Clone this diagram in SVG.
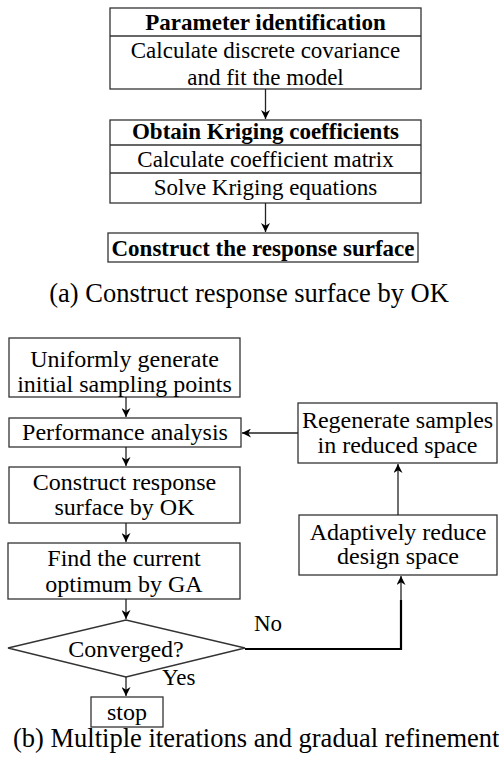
<svg xmlns="http://www.w3.org/2000/svg" width="499" height="762" viewBox="0 0 499 762">
<style>
text{font-family:'Liberation Serif','Times New Roman',serif;fill:#000;text-anchor:middle}
.t{font-size:23px}
.u{font-size:24px}
.b{font-weight:bold}
.cap{font-size:26.5px}
.l{text-anchor:start}
.box{fill:#fff;stroke:#333;stroke-width:1.3}
.c{fill:none;stroke:#222;stroke-width:1.3}
.c2{fill:none;stroke:#000;stroke-width:2.2}
</style>
<defs>
<marker id="ah" viewBox="0 0 10 10" refX="10" refY="5" markerWidth="9" markerHeight="9" markerUnits="userSpaceOnUse" orient="auto">
<path d="M0,0 L10,5 L0,10 L3,5 z" fill="#000"/>
</marker>
</defs>
<g id="param">
<rect class="box" x="110" y="8" width="311" height="81"/>
<line class="box" x1="110" y1="36" x2="421" y2="36"/>
<text class="t b" x="265.5" y="30">Parameter identification</text>
<text class="t" x="265.5" y="58">Calculate discrete covariance</text>
<text class="t" x="265.5" y="85">and fit the model</text>
</g>
<g id="kriging">
<rect class="box" x="110" y="120" width="311" height="83"/>
<line class="box" x1="110" y1="145" x2="421" y2="145"/>
<line class="box" x1="110" y1="173" x2="421" y2="173"/>
<text class="t b" x="265.5" y="139">Obtain Kriging coefficients</text>
<text class="t" x="265.5" y="167">Calculate coefficient matrix</text>
<text class="t" x="265.5" y="195">Solve Kriging equations</text>
</g>
<g id="surface">
<rect class="box" x="108" y="233" width="310" height="29"/>
<text class="t b" x="263" y="256">Construct the response surface</text>
</g>
<text class="cap" x="249" y="302">(a) Construct response surface by OK</text>
<g id="uniform">
<rect class="box" x="9" y="338" width="231" height="59"/>
<text class="u" x="124.5" y="367">Uniformly generate</text>
<text class="u" x="124.5" y="392">initial sampling points</text>
</g>
<g id="perf">
<rect class="box" x="9" y="418" width="232" height="29"/>
<text class="u" x="125" y="440">Performance analysis</text>
</g>
<g id="construct">
<rect class="box" x="9" y="467" width="231" height="56"/>
<text class="u" x="124.5" y="490">Construct response</text>
<text class="u" x="124.5" y="515">surface by OK</text>
</g>
<g id="find">
<rect class="box" x="8" y="543" width="232" height="56"/>
<text class="u" x="124" y="566">Find the current</text>
<text class="u" x="124" y="592">optimum by GA</text>
</g>
<g id="converged">
<polygon class="box" points="8,648 126,620 245,648 126,677"/>
<text class="u" x="126" y="657">Converged?</text>
</g>
<g id="stop">
<rect class="box" x="91" y="697" width="72" height="30"/>
<text class="u" x="127" y="720">stop</text>
</g>
<g id="regen">
<rect class="box" x="298" y="403" width="199" height="60"/>
<text class="u" x="397.5" y="428">Regenerate samples</text>
<text class="u" x="397.5" y="453">in reduced space</text>
</g>
<g id="adapt">
<rect class="box" x="299" y="515" width="198" height="60"/>
<text class="u" x="398" y="540">Adaptively reduce</text>
<text class="u" x="398" y="564">design space</text>
</g>
<text class="cap l" x="13" y="747">(b) Multiple iterations and gradual refinement</text>
<g id="connectors">
<line class="c" x1="265.5" y1="89" x2="265.5" y2="119" marker-end="url(#ah)"/>
<line class="c" x1="265.5" y1="203" x2="265.5" y2="232" marker-end="url(#ah)"/>
<line class="c" x1="126" y1="397" x2="126" y2="417" marker-end="url(#ah)"/>
<line class="c" x1="126" y1="447" x2="126" y2="466" marker-end="url(#ah)"/>
<line class="c" x1="126" y1="523" x2="126" y2="542" marker-end="url(#ah)"/>
<line class="c" x1="126" y1="599" x2="126" y2="619" marker-end="url(#ah)"/>
<line class="c" x1="126" y1="677" x2="126" y2="696" marker-end="url(#ah)"/>
<line class="c" x1="298" y1="433" x2="242" y2="433" marker-end="url(#ah)"/>
<line class="c" x1="398" y1="515" x2="398" y2="464" marker-end="url(#ah)"/>
<polyline class="c2" points="245,649 401,649 401,600"/>
<line class="c" x1="401" y1="600" x2="401" y2="576" marker-end="url(#ah)"/>
<text class="t l" x="254" y="631">No</text>
<text class="t l" x="162" y="685">Yes</text>
</g>
</svg>
